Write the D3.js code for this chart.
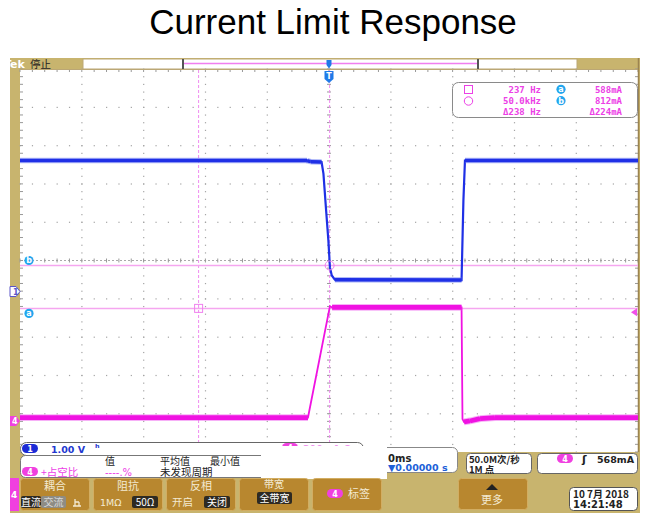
<!DOCTYPE html>
<html>
<head>
<meta charset="utf-8">
<script src="https://cdn.jsdelivr.net/npm/d3@7"></script>
<style>
  body { margin: 0; background: #fff; }
  svg { display: block; }
</style>
</head>
<body>
<div id="chart"></div>
<script>
// ---- data ----
// time in ms (2 ms/div, trigger at 0), ch1 in volts, ch4 in mA
const ch1Time  = [-10, -0.71, -0.6, -0.24, -0.18, -0.1, -0.02, 0.03, 0.09, 0.19, 4.29, 4.35, 4.40, 10];
const ch1Volts = [3.42, 3.42, 3.39, 3.38, 3.08, 2.19, 1.33, 0.63, 0.42, 0.31, 0.30, 2.38, 3.42, 3.42];
const ch4Time  = [-10, -0.68, 0.03, 0.1, 4.29, 4.32, 4.37, 4.56, 4.89, 5.37, 10];
const ch4mA    = [18, 18, 600, 593, 593, 10, -5, 0, 12, 17, 18];

const ch1Scale = 1.0;     // V/div
const ch1Pos = -0.81;     // div
const ch4Scale = 200;     // mA/div
const ch4Pos = -4.19;     // div

const cursorTime = [-4.22, 0.02];          // ms
const cursorCurrent = [588, 812];          // a, b (mA)
const triggerLevel = 568;                  // mA

const readoutFreq = ["237 Hz", "50.0kHz", "Δ238 Hz"];
const readoutCurr = ["588mA", "812mA", "Δ224mA"];

// ---- setup ----
const W = 648, H = 513;
const svg = d3.select("#chart").append("svg")
    .attr("width", W)
    .attr("height", H);

const sans = "DejaVu Sans, sans-serif";
const mono = "DejaVu Sans Mono, monospace";
const cjk = "Noto Sans CJK SC, sans-serif";
const bezel = "#c8b46e";
const btnFill = "#b8872f";
const pink = "#ec40e6";
const cursorPink = "#f5a6f0";
const cyan = "#22a6ee";

svg.append("text")
    .attr("x", 333)
    .attr("y", 34)
    .attr("text-anchor", "middle")
    .style("font-family", "Liberation Sans, Arial, sans-serif")
    .style("font-size", "35px")
    .text("Current Limit Response");

// scales
const x = d3.scaleLinear().domain([-10, 10]).range([20, 638]);
const yDiv = d3.scaleLinear().domain([-5, 5]).range([452, 69]);
const y1 = v => yDiv(v / ch1Scale + ch1Pos);
const y4 = i => yDiv(i / ch4Scale + ch4Pos);

// bezel + screen
svg.append("rect").attr("x", 10).attr("y", 58).attr("width", 630).attr("height", 455).attr("fill", bezel);
svg.append("rect").attr("x", 20).attr("y", 69).attr("width", 618).attr("height", 383).attr("fill", "#fff");

// top bar
svg.append("rect").attr("x", 83).attr("y", 59).attr("width", 494).attr("height", 10)
    .attr("fill", "#fff").attr("stroke", "#bba775").attr("stroke-width", 1);
svg.append("line").attr("x1", 183).attr("x2", 477).attr("y1", 63.5).attr("y2", 63.5)
    .attr("stroke", "#f07ef0").attr("stroke-width", 1.5);
[182, 477].forEach(bx => {
    svg.append("rect").attr("x", bx).attr("y", 59).attr("width", 2).attr("height", 10).attr("fill", "#555");
});
svg.append("clipPath").attr("id", "tekclip")
    .append("rect").attr("x", 10).attr("y", 58).attr("width", 73).attr("height", 11);
svg.append("text").attr("x", 4).attr("y", 67.5).attr("clip-path", "url(#tekclip)")
    .style("font-family", sans).style("font-weight", "bold").style("font-size", "11px")
    .attr("fill", "#fff").text("Tek");
svg.append("text").attr("x", 30).attr("y", 67.5)
    .style("font-family", cjk).style("font-size", "10.5px").attr("fill", "#222").text("停止");

// graticule
const grid = svg.append("g");
const majorX = d3.range(-8, 8.01, 2);
const majorY = d3.range(-4, 4.01, 1);
const minorX = d3.range(-10, 10.001, 0.4);
const minorY = d3.range(-5, 5.001, 0.2);

majorY.filter(v => Math.abs(v) > 1e-9).forEach(v => {
    grid.selectAll(null).data(minorX).enter().append("rect")
        .attr("x", d => x(d) - 0.5).attr("y", yDiv(v) - 0.5)
        .attr("width", 1.2).attr("height", 1.2).attr("fill", "#a4a4a4");
});
majorX.filter(t => Math.abs(t) > 1e-9).forEach(t => {
    grid.selectAll(null).data(minorY).enter().append("rect")
        .attr("x", x(t) - 0.5).attr("y", d => yDiv(d) - 0.5)
        .attr("width", 1.2).attr("height", 1.2).attr("fill", "#a4a4a4");
});
// center axes
grid.append("line").attr("x1", 20).attr("x2", 638).attr("y1", yDiv(0)).attr("y2", yDiv(0))
    .attr("stroke", "#aaa").attr("stroke-dasharray", "2,2");
grid.selectAll(null).data(minorX).enter().append("line")
    .attr("x1", d => x(d)).attr("x2", d => x(d))
    .attr("y1", yDiv(0) - 2).attr("y2", yDiv(0) + 2)
    .attr("stroke", "#999");
grid.selectAll(null).data(minorY).enter().append("line")
    .attr("x1", x(0) - 2).attr("x2", x(0) + 2)
    .attr("y1", d => yDiv(d)).attr("y2", d => yDiv(d))
    .attr("stroke", "#999");
// border ticks
grid.selectAll(null).data(minorX).enter().append("line")
    .attr("x1", d => x(d)).attr("x2", d => x(d)).attr("y1", 69).attr("y2", 72)
    .attr("stroke", "#999");
grid.selectAll(null).data(minorY).enter().append("line")
    .attr("x1", 20).attr("x2", 23).attr("y1", d => yDiv(d)).attr("y2", d => yDiv(d))
    .attr("stroke", "#999");
grid.selectAll(null).data(minorY).enter().append("line")
    .attr("x1", 635).attr("x2", 638).attr("y1", d => yDiv(d)).attr("y2", d => yDiv(d))
    .attr("stroke", "#999");
grid.append("line").attr("x1", 20).attr("x2", 638).attr("y1", 69.5).attr("y2", 69.5)
    .attr("stroke", "#bba775");
grid.append("line").attr("x1", 638.5).attr("x2", 638.5).attr("y1", 58).attr("y2", 452)
    .attr("stroke", "#9c8450").attr("stroke-width", 1.5);

// cursors
cursorTime.forEach(t => {
    svg.append("line").attr("x1", x(t)).attr("x2", x(t)).attr("y1", 70).attr("y2", 452)
        .attr("stroke", "#f08cf0").attr("stroke-width", 1).attr("stroke-dasharray", "3,2");
});
cursorCurrent.forEach(c => {
    svg.append("line").attr("x1", 20).attr("x2", 638).attr("y1", y4(c)).attr("y2", y4(c))
        .attr("stroke", cursorPink).attr("stroke-width", 1.5);
});

// traces: flat parts drawn as a noisy band, edges thin
function drawTrace(ts, vs, yf, core, halo, bandW, edgeW) {
    const pts = ts.map((t, i) => [x(t), yf(vs[i])]);
    const g = svg.append("g");
    g.append("path").attr("d", d3.line()(pts))
        .attr("fill", "none").attr("stroke", core).attr("stroke-width", edgeW);
    for (let i = 0; i < pts.length - 1; i++) {
        const [xa, ya] = pts[i], [xb, yb] = pts[i + 1];
        if (Math.abs(yb - ya) < Math.abs(xb - xa) * 0.5) {
            g.append("line").attr("x1", xa).attr("y1", ya).attr("x2", xb).attr("y2", yb)
                .attr("stroke", halo).attr("stroke-opacity", 0.55).attr("stroke-width", bandW + 2);
            g.append("line").attr("x1", xa).attr("y1", ya).attr("x2", xb).attr("y2", yb)
                .attr("stroke", core).attr("stroke-width", bandW);
        }
    }
}
drawTrace(ch1Time, ch1Volts, y1, "#1f30e6", "#7080f2", 3.5, 2.2);
drawTrace(ch4Time, ch4mA, y4, "#f012e2", "#f070f0", 4.8, 1.8);

// cursor markers on graticule
svg.append("rect").attr("x", x(cursorTime[0]) - 4).attr("y", y4(cursorCurrent[0]) - 4)
    .attr("width", 8).attr("height", 8).attr("fill", "none").attr("stroke", "#f080ee");
svg.append("circle").attr("cx", x(cursorTime[1])).attr("cy", y4(cursorCurrent[1])).attr("r", 4.5)
    .attr("fill", "none").attr("stroke", "#f080ee");

function badge(cx, cy, letter) {
    svg.append("circle").attr("cx", cx).attr("cy", cy).attr("r", 4.6).attr("fill", cyan);
    svg.append("text").attr("x", cx).attr("y", cy + 3).attr("text-anchor", "middle")
        .style("font-family", sans).style("font-weight", "bold").style("font-size", "8px")
        .attr("fill", "#fff").text(letter);
}
badge(29, y4(cursorCurrent[1]) - 5, "b");
badge(29, y4(cursorCurrent[0]) + 5, "a");

// ground markers and trigger markers
const g1 = y1(0), g4 = y4(0);
svg.append("path").attr("d", `M10,${g1 - 5}h6l4,5l-4,5h-6z`)
    .attr("fill", "#fff").attr("stroke", "#5a55c8");
svg.append("text").attr("x", 13).attr("y", g1 + 3).style("font-family", sans)
    .style("font-size", "8px").style("font-weight", "bold").attr("fill", "#5a55c8").text("1");
svg.append("path").attr("d", `M10,${g4 - 5}h6l4,5l-4,5h-6z`).attr("fill", "#f040e0");
svg.append("text").attr("x", 12).attr("y", g4 + 3).style("font-family", sans)
    .style("font-size", "8px").style("font-weight", "bold").attr("fill", "#fff").text("4");
const tl = y4(triggerLevel);
svg.append("path").attr("d", `M637,${tl - 4}v8l-6,-4z`).attr("fill", "#f050e8");

const tx = x(0);
svg.append("path").attr("d", `M${tx - 2.5},60h5v5l-2.5,3.5l-2.5,-3.5z`).attr("fill", "#1f7ae8");
svg.append("path").attr("d", `M${tx - 4.5},71h9v8l-4.5,4l-4.5,-4z`).attr("fill", "#1f7ae8");
svg.append("text").attr("x", tx).attr("y", 79).attr("text-anchor", "middle")
    .style("font-family", sans).style("font-weight", "bold").style("font-size", "8px")
    .attr("fill", "#fff").text("T");

// cursor readout box
svg.append("rect").attr("x", 452.5).attr("y", 82.5).attr("width", 185).attr("height", 35).attr("rx", 6)
    .attr("fill", "#fff").attr("stroke", "#8a8a8a");
svg.append("rect").attr("x", 464.5).attr("y", 85.5).attr("width", 8).attr("height", 8)
    .attr("fill", "none").attr("stroke", pink);
svg.append("circle").attr("cx", 468.5).attr("cy", 101).attr("r", 4.2)
    .attr("fill", "none").attr("stroke", pink);
readoutFreq.forEach((s, i) => {
    svg.append("text").attr("x", 541).attr("y", 92.5 + i * 11.3).attr("text-anchor", "end")
        .style("font-family", mono).style("font-weight", "bold").style("font-size", "9px")
        .attr("fill", pink).text(s);
});
readoutCurr.forEach((s, i) => {
    svg.append("text").attr("x", 622).attr("y", 92.5 + i * 11.3).attr("text-anchor", "end")
        .style("font-family", mono).style("font-weight", "bold").style("font-size", "9px")
        .attr("fill", pink).text(s);
});
badge(561, 89.3, "a");
badge(561, 100.7, "b");

// ---- lower readouts ----
function pill(px, py, label, fill) {
    svg.append("rect").attr("x", px).attr("y", py).attr("width", 16).attr("height", 9).attr("rx", 4.5)
        .attr("fill", fill);
    svg.append("text").attr("x", px + 8).attr("y", py + 7.5).attr("text-anchor", "middle")
        .style("font-family", sans).style("font-weight", "bold").style("font-size", "8px")
        .attr("fill", "#fff").text(label);
}
function txt(tx0, ty, s, opts) {
    const o = Object.assign({ font: cjk, size: 10.5, fill: "#222", weight: "normal", anchor: "start" }, opts);
    return svg.append("text").attr("x", tx0).attr("y", ty).attr("text-anchor", o.anchor)
        .style("font-family", o.font).style("font-size", o.size + "px").style("font-weight", o.weight)
        .attr("fill", o.fill).text(s);
}

// channel readout strip
svg.append("rect").attr("x", 20.5).attr("y", 442.5).attr("width", 343).attr("height", 13).attr("rx", 6)
    .attr("fill", "#fff").attr("stroke", "#666");
pill(22, 444, "1", "#1c2bd6");
txt(51, 452.5, "1.00 V", { font: sans, size: 9.5, weight: "bold", fill: "#2238d0" });
txt(95, 452, "ʰ", { font: sans, size: 10, weight: "bold", fill: "#2238d0" });
pill(282, 443, "4", "#f040e0");
txt(303, 452, "200mA Ω", { font: sans, size: 9.5, weight: "bold", fill: "#f090ee" });

// measurement box
svg.append("rect").attr("x", 20.5).attr("y", 455.5).attr("width", 250).attr("height", 22).attr("rx", 5)
    .attr("fill", "#fff").attr("stroke", "#777");
pill(22, 467, "4", "#f040e0");
txt(41, 476, "+占空比", { fill: pink, size: 10.5 });
txt(105, 465, "值", { size: 10 });
txt(105, 476, "----.%", { font: sans, size: 10, fill: pink });
txt(160, 465, "平均值", { size: 10 });
txt(160, 476, "未发现周期", { size: 10.5 });
txt(210, 465, "最小值", { size: 10 });

// time box (partially hidden)
svg.append("rect").attr("x", 330.5).attr("y", 447.5).attr("width", 127).attr("height", 25).attr("rx", 5)
    .attr("fill", "#fff").attr("stroke", "#888");
// pasted white patch
svg.append("rect").attr("x", 261).attr("y", 446).attr("width", 126).attr("height", 33).attr("fill", "#fff");
txt(388, 461.5, "0ms", { font: sans, size: 10, weight: "bold", fill: "#222" });
txt(388, 471, "▼0.00000 s", { font: sans, size: 9.5, weight: "bold", fill: "#2060d8" });

// sample rate box
svg.append("rect").attr("x", 466.5).attr("y", 453.5).attr("width", 65).attr("height", 20).attr("rx", 4)
    .attr("fill", "#fff").attr("stroke", "#666");
txt(469, 462.5, "50.0M次/秒", { size: 9.5, weight: "bold" });
txt(469, 472.5, "1M 点", { size: 9.5, weight: "bold" });

// trigger box
svg.append("rect").attr("x", 537.5).attr("y", 453.5).attr("width", 100).attr("height", 20).attr("rx", 4)
    .attr("fill", "#fff").attr("stroke", "#666");
pill(557, 454, "4", "#f040e0");
txt(582, 462.5, "ʃ", { font: sans, size: 11, weight: "bold" });
txt(597, 462.5, "568mA", { font: sans, size: 9.5, weight: "bold" });

// left channel tab
svg.append("rect").attr("x", 10).attr("y", 478).attr("width", 9).attr("height", 33).attr("fill", "#f040e0");
txt(11, 498, "4", { font: sans, size: 9, weight: "bold", fill: "#fff" });

// menu buttons
const menuTop = ["耦合", "阻抗", "反相", "带宽"];
const bx = i => 20 + i * 73;
for (let i = 0; i < 5; i++) {
    svg.append("rect").attr("x", bx(i) + 0.5).attr("y", 478.5).attr("width", 69).attr("height", 32).attr("rx", 3)
        .attr("fill", btnFill).attr("stroke", "#d2ad62");
}
const cream = "#f3ead2";
menuTop.forEach((s, i) => {
    txt(bx(i) + 35, i === 3 ? 488 : 490, s, { anchor: "middle", fill: cream, size: i === 3 ? 10 : 11 });
});
function chip(cx0, cy0, w, s, fill, color) {
    svg.append("rect").attr("x", cx0).attr("y", cy0).attr("width", w).attr("height", 12).attr("rx", 2).attr("fill", fill);
    txt(cx0 + w / 2, cy0 + 10, s, { anchor: "middle", fill: color, size: 10 });
}
chip(21, 496, 20, "直流", "#2e2a22", "#fff");
chip(41, 496, 25, "交流", "#8e8c84", "#d8d8d8");
// ground symbol
svg.append("path").attr("d", "M73,506h8M75,506v-7M75,502h4M79,502v4")
    .attr("stroke", cream).attr("stroke-width", 1.3).attr("fill", "none");
txt(100, 506, "1MΩ", { font: sans, size: 9.5, fill: cream });
chip(132, 496, 26, "50Ω", "#2e2a22", "#fff");
txt(172, 506, "开启", { fill: cream, size: 10.5 });
chip(204, 496, 26, "关闭", "#2e2a22", "#fff");
chip(257, 492, 35, "全带宽", "#2e2a22", "#fff");
pill(327, 489, "4", "#f040e0");
txt(348, 497.5, "标签", { fill: cream, size: 11 });

// more button
svg.append("rect").attr("x", 458.5).attr("y", 478.5).attr("width", 69).attr("height", 31).attr("rx", 3)
    .attr("fill", btnFill).attr("stroke", "#d2ad62");
svg.append("path").attr("d", "M486,490l6,-6l6,6z").attr("fill", "#222");
txt(492, 503.5, "更多", { anchor: "middle", fill: cream, size: 11 });

// date box
svg.append("rect").attr("x", 569.5).attr("y", 487.5).attr("width", 68).attr("height", 23).attr("rx", 4)
    .attr("fill", "#fff").attr("stroke", "#555");
txt(573, 498, "10 7月  2018", { size: 10, weight: "bold" });
txt(573, 508, "14:21:48", { font: sans, size: 10, weight: "bold" });
</script>
</body>
</html>
